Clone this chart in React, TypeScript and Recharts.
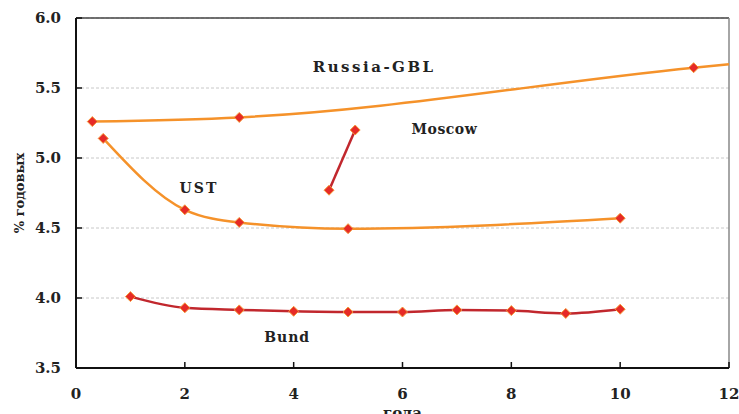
import React from "react";
import {
  LineChart,
  Line,
  XAxis,
  YAxis,
  CartesianGrid,
  ReferenceLine,
  ReferenceDot,
} from "recharts";

const ruX = [0.3, 3, 11.35, 12];
const ruY = [5.26, 5.29, 5.645, 5.67];
const ustX = [0.5, 2, 3, 5, 10];
const ustY = [5.14, 4.63, 4.54, 4.495, 4.57];
const mosX = [4.65, 5.13];
const mosY = [4.77, 5.2];
const bundX = [1, 2, 3, 4, 5, 6, 7, 8, 9, 10];
const bundY = [4.01, 3.93, 3.915, 3.905, 3.9, 3.9, 3.915, 3.91, 3.89, 3.92];
const xTicks = [0, 2, 4, 6, 8, 10, 12];
const yTicks = [3.5, 4.0, 4.5, 5.0, 5.5, 6.0];

const seriesLabels = [
  { text: "Russia-GBL", x: 5.48, y: 5.65, size: 15, spacing: 2.5 },
  { text: "Moscow", x: 6.77, y: 5.207, size: 14, spacing: 0.5 },
  { text: "UST", x: 2.26, y: 4.786, size: 14, spacing: 2 },
  { text: "Bund", x: 3.88, y: 3.72, size: 14, spacing: 1 },
];

const toRows = (xs: number[], ys: number[]) => xs.map((x, i) => ({ x, y: ys[i] }));

const ORANGE = "#F5922A";
const DARKRED = "#C1272D";
const FONT = "'DejaVu Serif', serif";

function diamond(p: any, skipLast: number) {
  const { cx, cy, index } = p;
  if (skipLast >= 0 && index >= skipLast) return <g key={`d-${index}`} />;
  const r = 5;
  return (
    <path
      key={`d-${index}`}
      d={`M${cx},${cy - r}L${cx + r},${cy}L${cx},${cy + r}L${cx - r},${cy}Z`}
      fill="#E62A27"
      stroke="#F59A3A"
      strokeWidth={1}
    />
  );
}

const yLabel = (props: any) => {
  const vb = props.viewBox || { x: 0, y: 18, width: 76, height: 350 };
  const x = vb.x + 24;
  const y = vb.y + vb.height / 2;
  return (
    <text
      x={x}
      y={y}
      transform={`rotate(-90, ${x}, ${y})`}
      textAnchor="middle"
      fontFamily={FONT}
      fontWeight="bold"
      fontSize={13}
      fill="#222"
    >
      % годовых
    </text>
  );
};

const xLabel = (props: any) => {
  const vb = props.viewBox || { x: 76, y: 368, width: 653, height: 46 };
  return (
    <text
      x={vb.x + vb.width / 2}
      y={vb.y + 50}
      textAnchor="middle"
      fontFamily={FONT}
      fontWeight="bold"
      fontSize={15}
      fill="#222"
    >
      года
    </text>
  );
};

export default function App() {
  const ru = toRows(ruX, ruY);
  const ust = toRows(ustX, ustY);
  const mos = toRows(mosX, mosY);
  const bund = toRows(bundX, bundY);
  const tickStyle = { fontFamily: FONT, fontWeight: "bold", fontSize: 15, fill: "#222" };

  return (
    <div style={{ width: 739, height: 414 }}>
      <style>{`body{margin:0}`}</style>
      <LineChart
        width={739}
        height={414}
        margin={{ top: 18, right: 10, left: 0, bottom: 0 }}
      >
        <CartesianGrid
          vertical={false}
          stroke="#c8c8c8"
          strokeDasharray="3 2"
        />
        <XAxis
          type="number"
          dataKey="x"
          domain={[0, 12]}
          ticks={xTicks}
          height={46}
          tickSize={-6}
          tickMargin={26}
          tick={tickStyle}
          axisLine={{ stroke: "#111", strokeWidth: 2 }}
          tickLine={{ stroke: "#111", strokeWidth: 1.5 }}
          label={{ value: "года", content: xLabel }}
        />
        <YAxis
          type="number"
          dataKey="y"
          domain={[3.5, 6]}
          ticks={yTicks}
          width={76}
          tickSize={-6}
          tickMargin={21}
          tick={tickStyle}
          tickFormatter={(v: number) => v.toFixed(1)}
          axisLine={{ stroke: "#111", strokeWidth: 2 }}
          tickLine={{ stroke: "#111", strokeWidth: 1.5 }}
          label={{ value: "% годовых", content: yLabel }}
        />
        <ReferenceLine y={6} stroke="#444" strokeWidth={1.5} />
        <ReferenceLine x={12} stroke="#888" strokeWidth={1.5} />
        <Line
          data={ru}
          dataKey="y"
          type="monotone"
          stroke={ORANGE}
          strokeWidth={2.5}
          dot={(p: any) => diamond(p, ru.length - 1)}
          isAnimationActive={false}
        />
        <Line
          data={ust}
          dataKey="y"
          type="monotone"
          stroke={ORANGE}
          strokeWidth={2.5}
          dot={(p: any) => diamond(p, -1)}
          isAnimationActive={false}
        />
        <Line
          data={mos}
          dataKey="y"
          type="linear"
          stroke={DARKRED}
          strokeWidth={2.5}
          dot={(p: any) => diamond(p, -1)}
          isAnimationActive={false}
        />
        <Line
          data={bund}
          dataKey="y"
          type="monotone"
          stroke={DARKRED}
          strokeWidth={2.5}
          dot={(p: any) => diamond(p, -1)}
          isAnimationActive={false}
        />
        {seriesLabels.map((l) => (
          <ReferenceDot
            key={l.text}
            x={l.x}
            y={l.y}
            r={0}
            stroke="none"
            fill="none"
            ifOverflow="visible"
            label={{
              value: l.text,
              position: "center",
              fontFamily: FONT,
              fontWeight: "bold",
              fontSize: l.size,
              letterSpacing: l.spacing,
              fill: "#222",
            }}
          />
        ))}
      </LineChart>
    </div>
  );
}
